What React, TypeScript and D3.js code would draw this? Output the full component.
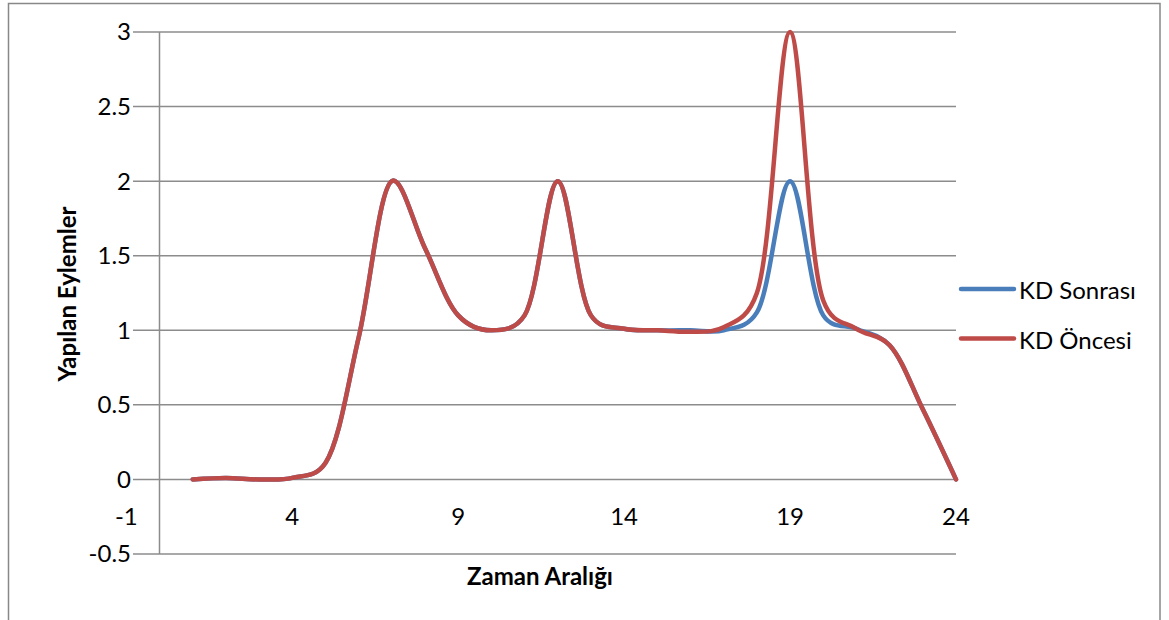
import React from "react";
import * as d3 from "d3";

const xValues = [1, 2, 3, 4, 5, 6, 7, 8, 9, 10, 11, 12, 13, 14, 15, 16, 17, 18, 19, 20, 21, 22, 23, 24];
const kdSonrasi = [0, 0.01, 0, 0.01, 0.11, 0.95, 2, 1.55, 1.1, 1, 1.1, 2, 1.1, 1.01, 1, 1, 1, 1.12, 2, 1.1, 1.01, 0.9, 0.47, 0];
const kdOncesi = [0, 0.01, 0, 0.01, 0.11, 0.95, 2, 1.55, 1.1, 1, 1.1, 2, 1.1, 1.01, 1, 0.99, 1.02, 1.25, 3, 1.2, 1.01, 0.9, 0.47, 0];
const yTicks = [-0.5, 0, 0.5, 1, 1.5, 2, 2.5, 3];
const xTicks = [-1, 4, 9, 14, 19, 24];
const seriesNames = ["KD Sonrası", "KD Öncesi"];
const seriesColors = ["#4A7EBB", "#BE4B48"];

export default function App() {
  const x = d3.scaleLinear().domain([0, 24]).range([159.5, 956]);
  const y = d3.scaleLinear().domain([-0.5, 3]).range([554, 32]);
  const line = d3
    .line<number>()
    .x((_, i) => x(xValues[i]))
    .y((d) => y(d))
    .curve(d3.curveCatmullRom.alpha(0.3));
  const series = [kdSonrasi, kdOncesi];
  const font = "Lato, 'Open Sans', sans-serif";
  const grid = "#8c8c8c";
  const fs = 24;
  return (
    <svg
      width={1169}
      height={620}
      style={{ position: "absolute", left: 0, top: 0, display: "block" }}
      fontFamily={font}
    >
      <rect x={0} y={0} width={1169} height={620} fill="#fff" />
      <rect x={8.5} y={3.5} width={1151.5} height={640} fill="none" stroke="#888" strokeWidth={1.5} />
      {yTicks.map((t) => (
        <g key={"y" + t}>
          <line x1={133} x2={956} y1={y(t)} y2={y(t)} stroke={grid} strokeWidth={1.5} />
          <text x={131} y={y(t)} dy="0.35em" textAnchor="end" fontSize={fs} fill="#000">
            {t}
          </text>
        </g>
      ))}
      <line x1={x(0)} x2={x(0)} y1={y(3)} y2={y(-0.5)} stroke={grid} strokeWidth={1.5} />
      {xTicks.map((t) => (
        <text key={"x" + t} x={x(t)} y={517} dy="0.35em" textAnchor="middle" fontSize={fs} fill="#000">
          {t}
        </text>
      ))}
      {series.map((s, i) => (
        <path
          key={"s" + i}
          d={line(s) || ""}
          fill="none"
          stroke={seriesColors[i]}
          strokeWidth={4.5}
          strokeLinejoin="round"
          strokeLinecap="round"
        />
      ))}
      <text x={540} y={577} dy="0.35em" textAnchor="middle" fontSize={fs} fontWeight="bold" fill="#000">
        Zaman Aralığı
      </text>
      <text
        transform={`translate(68,294) rotate(-90)`}
        dy="0.35em"
        textAnchor="middle"
        fontSize={fs}
        fontWeight="bold"
        fill="#000"
      >
        Yapılan Eylemler
      </text>
      {seriesNames.map((n, i) => (
        <g key={"l" + i} transform={`translate(0, ${289 + i * 49.5})`}>
          <line x1={961} x2={1014} y1={0} y2={0} stroke={seriesColors[i]} strokeWidth={4.5} strokeLinecap="round" />
          <text x={1019} y={2} dy="0.35em" fontSize={fs} fill="#000">
            {n}
          </text>
        </g>
      ))}
    </svg>
  );
}
